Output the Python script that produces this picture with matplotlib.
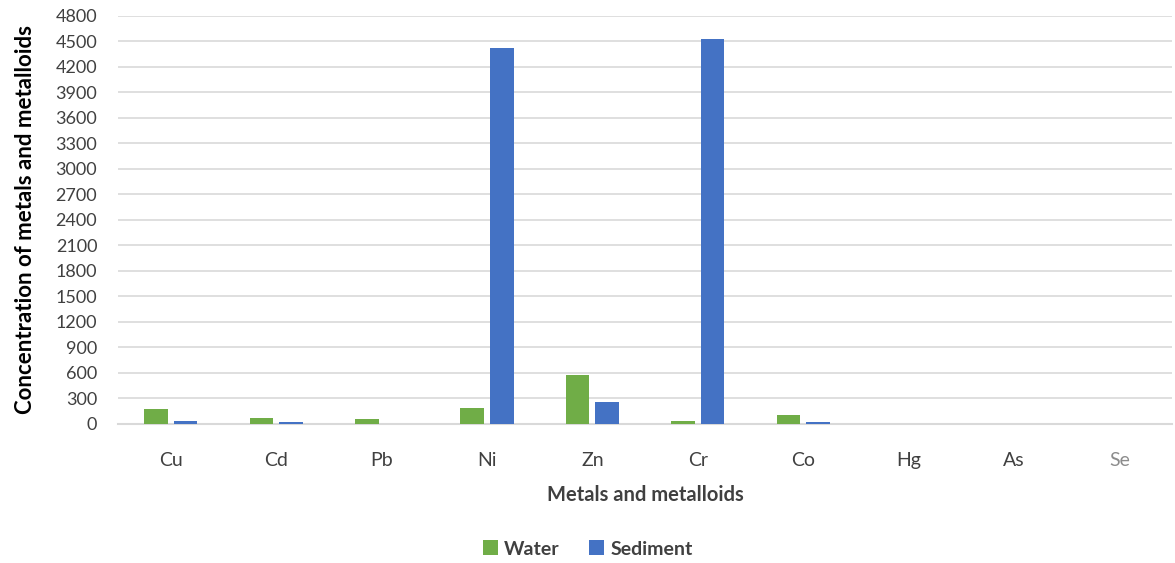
import numpy as np
import matplotlib.pyplot as plt

plt.rcParams['font.family'] = ['Lato', 'DejaVu Sans']

metals = ['Cu', 'Cd', 'Pb', 'Ni', 'Zn', 'Cr', 'Co', 'Hg', 'As', 'Se']
water = [176, 70, 59, 188, 576, 35, 106, 0, 0, 0]
sediment = [35, 24, 4, 4424, 259, 4529, 24, 0, 0, 0]
yticks = list(range(0, 4801, 300))

green = '#70ad47'
blue = '#4472c4'
text_col = '#404040'

fig = plt.figure(figsize=(11.75, 5.63), dpi=100)
ax = fig.add_axes([0.1005, 0.247, 0.897, 0.7246])

x = np.arange(len(metals))
w = 0.225
gap = 0.056
ax.bar(x - (w + gap) / 2, water, w, color=green, label='Water', zorder=3)
ax.bar(x + (w + gap) / 2, sediment, w, color=blue, label='Sediment', zorder=3)

ax.set_xlim(-0.5, len(metals) - 0.5)
ax.set_ylim(0, 4800)
ax.set_yticks(yticks)
ax.set_yticklabels([str(v) for v in yticks], fontsize=13, color=text_col)
ax.set_xticks(x)
ax.set_xticklabels(metals, fontsize=14, color=text_col)
ax.get_xticklabels()[-1].set_color('#8c8c8c')
ax.tick_params(axis='both', length=0)
ax.tick_params(axis='x', pad=20)
ax.tick_params(axis='y', pad=15)

ax.grid(axis='y', color='#d9d9d9', linewidth=1.2, zorder=0)
for s in ['top', 'right', 'left']:
    ax.spines[s].set_visible(False)
ax.spines['bottom'].set_color('#d9d9d9')
ax.spines['bottom'].set_linewidth(1.5)

ax.set_xlabel('Metals and metalloids', fontsize=14.5, fontweight='bold',
              color=text_col, labelpad=12)
ax.set_ylabel('Concentration of metals and metalloids', fontsize=16,
              fontweight='bold', color='black', labelpad=14)

leg = fig.legend(loc='center', bbox_to_anchor=(0.5, 0.025), ncol=2,
                 frameon=False, fontsize=14, handlelength=0.8,
                 handleheight=0.8, handletextpad=0.3, columnspacing=1.5)
for t in leg.get_texts():
    t.set_fontweight('bold')
    t.set_color(text_col)

fig.savefig('out.png', dpi=100)
